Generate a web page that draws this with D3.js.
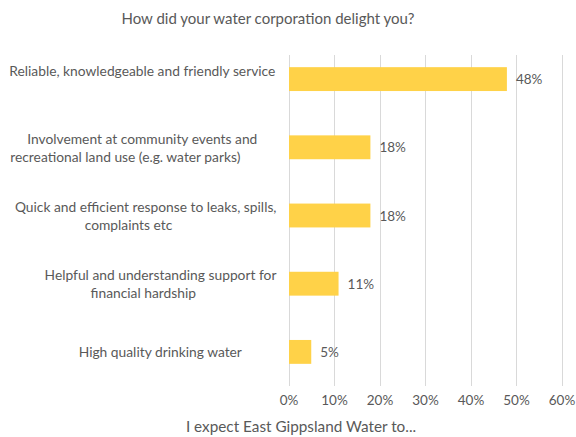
<!DOCTYPE html>
<html>
<head>
<meta charset="utf-8">
<script src="https://cdn.jsdelivr.net/npm/d3@7"></script>
<style>
  html, body { margin: 0; padding: 0; background: #fff; }
  svg { display: block; }
  text { font-family: "Source Sans Pro", Lato, "Open Sans", sans-serif; fill: #595959; }
</style>
</head>
<body>
<svg id="chart" width="576" height="437"></svg>
<script>
// Survey responses: share of respondents choosing each reason
const categories = [
  ["Reliable, knowledgeable and friendly service", ""],
  ["Involvement at community events and", "recreational land use (e.g. water parks)"],
  ["Quick and efficient response to leaks, spills,", "complaints etc"],
  ["Helpful and understanding support for", "financial hardship"],
  ["High quality drinking water"]
];
const values = [48, 18, 18, 11, 5];
const tickValues = [0, 10, 20, 30, 40, 50, 60];
const title = "How did your water corporation delight you?";
const footer = "I expect East Gippsland Water to...";

// Horizontal centre of each wrapped category label line
const labelCenters = [[142.3, 125], [142.3, 125.3], [145.7, 128.5], [160.5, 143.3], [160.3]];

const svg = d3.select("#chart");
const plot = { left: 288.5, right: 561.5, top: 45, bottom: 386, gridTop: 55 };

const x = d3.scaleLinear().domain([0, 60]).range([plot.left, plot.right]);
const y = d3.scaleBand().domain(d3.range(categories.length))
  .range([plot.top, plot.bottom]).paddingInner(0.65).paddingOuter(0.325);

// Title
svg.append("text")
  .attr("x", 268).attr("y", 18)
  .attr("text-anchor", "middle").attr("dominant-baseline", "central")
  .style("font-size", "15px")
  .text(title);

// Vertical gridlines
svg.append("g").selectAll("line").data(tickValues).join("line")
  .attr("x1", d => Math.round(x(d)) + 0.5).attr("x2", d => Math.round(x(d)) + 0.5)
  .attr("y1", plot.gridTop).attr("y2", plot.bottom)
  .attr("stroke", "#d9d9d9").attr("stroke-width", 1);

// Bars
svg.append("g").selectAll("rect").data(values).join("rect")
  .attr("x", x(0) + 0.5)
  .attr("y", (d, i) => y(i))
  .attr("width", d => x(d) - x(0) - 0.5)
  .attr("height", y.bandwidth())
  .attr("fill", "#FFD248");

// Value labels
svg.append("g").selectAll("text").data(values).join("text")
  .attr("x", d => x(d) + 9)
  .attr("y", (d, i) => y(i) + y.bandwidth() / 2)
  .attr("dominant-baseline", "central")
  .style("font-size", "13.5px")
  .text(d => d + "%");

// Category labels (wrapped, centred block per bar)
const lineH = 18;
const catG = svg.append("g");
categories.forEach((lines, i) => {
  const cy = y(i) + y.bandwidth() / 2;
  lines.forEach((ln, j) => {
    catG.append("text")
      .attr("x", labelCenters[i][j])
      .attr("y", cy + (j - (lines.length - 1) / 2) * lineH)
      .attr("text-anchor", "middle")
      .attr("dominant-baseline", "central")
      .style("font-size", "13.8px")
      .text(ln);
  });
});

// X axis tick labels
const xAxis = d3.axisBottom(x).tickValues(tickValues).tickFormat(d => d + "%").tickSize(0).tickPadding(0);
const ax = svg.append("g").attr("transform", `translate(0,${plot.bottom + 14})`).call(xAxis);
ax.select(".domain").remove();
ax.selectAll("text")
  .attr("y", 0).attr("dy", null)
  .attr("dominant-baseline", "central")
  .style("font-size", "13.5px")
  .style("font-family", "\"Source Sans Pro\", Lato, \"Open Sans\", sans-serif")
  .attr("fill", "#595959");

// Footer text
svg.append("text")
  .attr("x", 301).attr("y", 426)
  .attr("text-anchor", "middle").attr("dominant-baseline", "central")
  .style("font-size", "15.3px")
  .text(footer);
</script>
</body>
</html>
